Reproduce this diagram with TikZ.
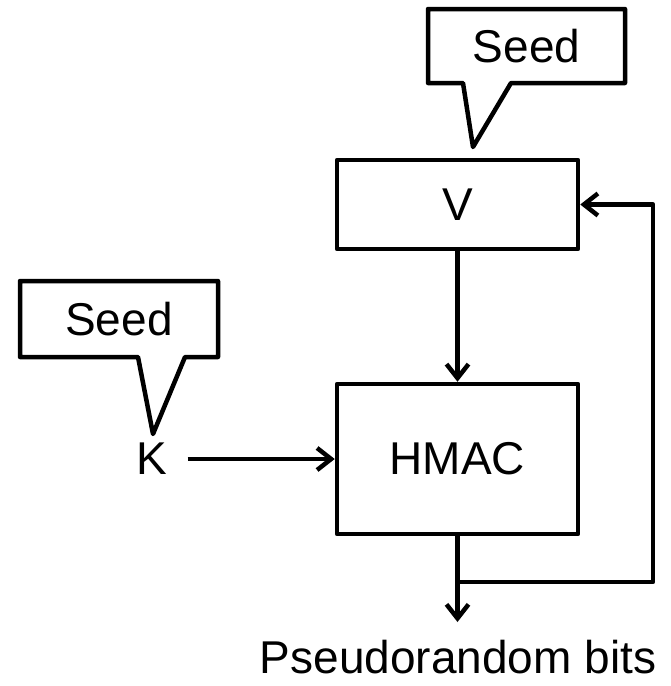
\documentclass[tikz,border=0pt]{standalone}
\usepackage{fontspec}
\setmainfont{Liberation Sans}
\usetikzlibrary{arrows.meta}
\begin{document}
\begin{tikzpicture}[x=1pt,y=-1pt, line width=4.5pt, line join=round,
  txt/.style={font=\fontsize{46}{55}\selectfont},
  box/.style={draw, txt, minimum width=241pt, inner sep=0pt},
  lbl/.style={txt, inner sep=0pt},
  callout/.style={draw, line join=round},
  arr/.style={-{Straight Barb[length=14pt,width=22pt,line width=4.5pt]}}]
\useasboundingbox (0,0) rectangle (671,686);
% boxes
\node[box, minimum height=89pt] (V) at (457.5,204.5) {V};
\node[box, minimum height=150pt] (H) at (457.5,459) {HMAC};
\node[lbl, inner xsep=18pt] (K) at (152,459) {K};
\node[lbl] (P) at (458,657) {Pseudorandom bits};
% callouts
\draw[callout] (428,9) -- (625,9) -- (625,83) -- (511,83) -- (473,147) -- (463,83) -- (428,83) -- cycle;
\node[lbl] (S1) at (526.5,46) {Seed};
\draw[callout] (20,281) -- (218,281) -- (218,357) -- (185,357) -- (153,434) -- (138,357) -- (20,357) -- cycle;
\node[lbl] (S2) at (119,319) {Seed};
% connectors
\coordinate (out) at (457.5,622);
\coordinate (fb) at (457.5,582);
\coordinate (c1) at (653,582);
\coordinate (c2) at (653,204.5);
\draw[arr] (V) -- (H);
\draw[arr] (K) -- (H);
\draw[arr] (H) -- (out);
\draw[arr] (fb) -- (c1) -- (c2) -- (V.east);
\end{tikzpicture}
\end{document}
